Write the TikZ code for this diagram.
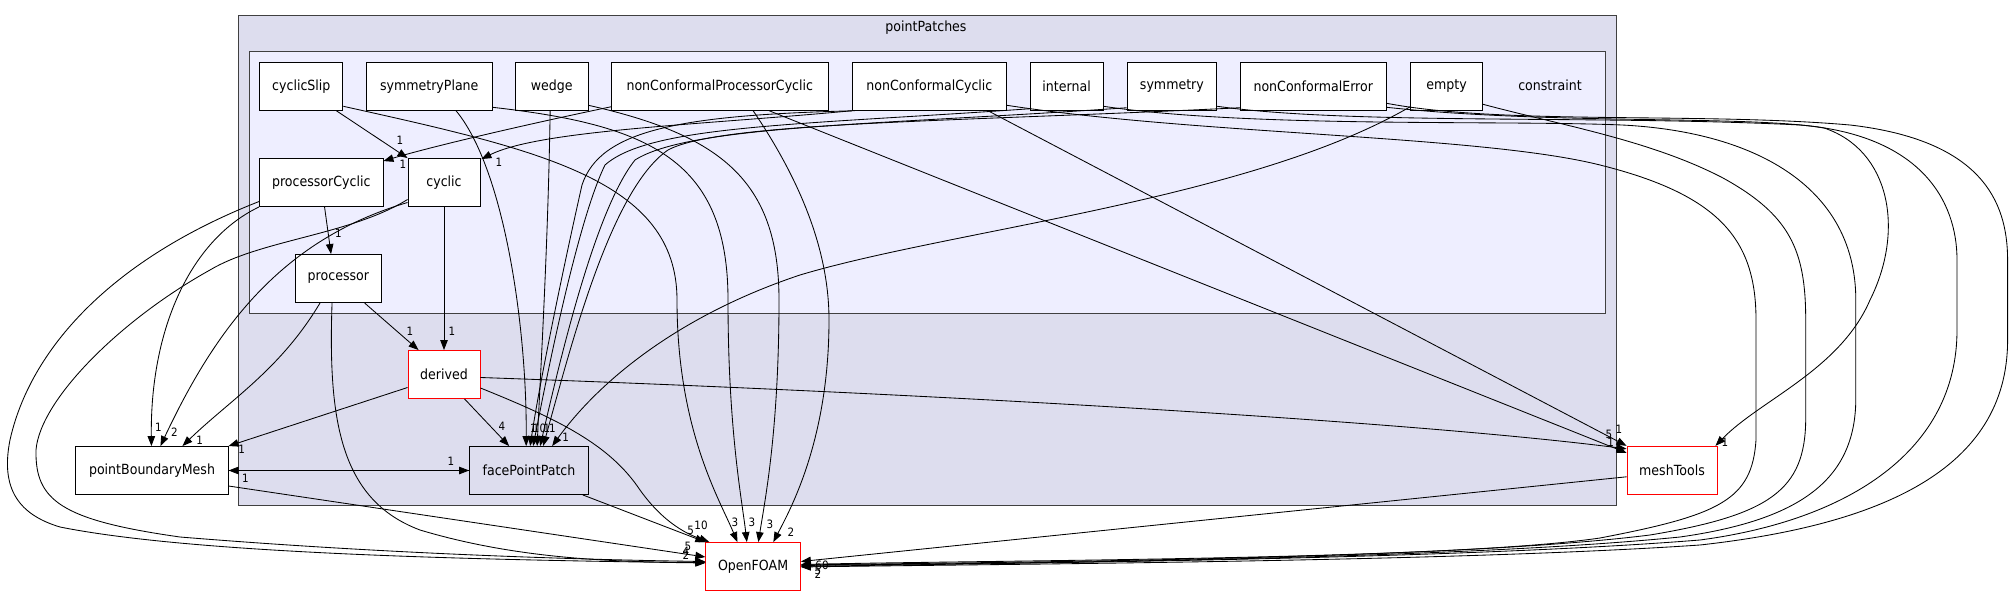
\documentclass[tikz,border=0pt]{standalone}
\usepackage{fontspec}
\setmainfont{DejaVu Sans}[FakeStretch=0.9]
\usetikzlibrary{arrows.meta,calc}
\definecolor{outerfill}{HTML}{DDDDEE}
\definecolor{innerfill}{HTML}{EEEEFF}
\definecolor{clline}{HTML}{404040}
\begin{document}
\begin{tikzpicture}[x=1pt,y=-1pt,
 box/.style={draw=black, fill=white, line width=0.9pt, inner sep=0pt, minimum height=48pt, font=\fontsize{14}{17}\selectfont},
 redbox/.style={box, draw=red},
 dep/.style={draw=black, line width=0.85pt, -{Triangle[length=10pt,width=7.5pt]}},
 lbl/.style={inner sep=0pt, font=\fontsize{11.5}{13}\selectfont},
 cluster/.style={draw=clline, line width=1pt, inner sep=0pt},
 cltext/.style={inner sep=0pt, font=\fontsize{14}{17}\selectfont}]
\useasboundingbox (0,0) rectangle (2013,596);
\fill[white] (0,0) rectangle (2013,596);
% clusters
\node[cluster, fill=outerfill, minimum width=1377.2pt, minimum height=489.3pt] (pp) at (927.4,260.35) {};
\node[cluster, fill=innerfill, minimum width=1356.7pt, minimum height=261.6pt] (cons) at (927.35,182.5) {};
\node[cltext] (ppl) at (926,27.7) {pointPatches};
\node[cltext] (consl) at (1550,85.7) {constraint};
% nodes
\node[box, minimum width=83.1pt] (cS) at (301.35,86.3) {cyclicSlip};
\node[box, minimum width=125.5pt] (sP) at (429.25,86.3) {symmetryPlane};
\node[box, minimum width=72.4pt] (wg) at (551.8,86.3) {wedge};
\node[box, minimum width=216.4pt] (ncpc) at (719.8,86.3) {nonConformalProcessorCyclic};
\node[box, minimum width=154pt] (ncc) at (929.4,86.3) {nonConformalCyclic};
\node[box, minimum width=72.7pt] (int) at (1066.65,86.3) {internal};
\node[box, minimum width=89.8pt] (sym) at (1171.9,86.3) {symmetry};
\node[box, minimum width=145.9pt] (nce) at (1313.25,86.3) {nonConformalError};
\node[box, minimum width=72pt] (emp) at (1446.6,86.3) {empty};
\node[box, minimum width=123.5pt] (pc) at (321.25,182.5) {processorCyclic};
\node[box, minimum width=72pt] (cyc) at (444,182.5) {cyclic};
\node[box, minimum width=85.7pt] (proc) at (338.35,278.5) {processor};
\node[redbox, minimum width=72pt] (der) at (444,374.5) {derived};
\node[box, minimum width=152.2pt] (pbm) at (152,470.5) {pointBoundaryMesh};
\node[box, fill=outerfill, minimum width=118.8pt] (fpp) at (529,470.5) {facePointPatch};
\node[redbox, minimum width=94.6pt] (of) at (753.1,566.5) {OpenFOAM};
\node[redbox, minimum width=90pt] (mt) at (1672,470.3) {meshTools};
% edges
\draw[dep] ($(cS.south west)+(77,0)$) -- (cyc.north west);
\draw[dep] ($(cS.east)+(0,20)$) .. controls (540,150) and (677,180) .. (677,300) .. controls (677,430) and (720,500) .. ($(of.north west)+(32,0)$);
\draw[dep] ($(sP.south west)+(90,0)$) .. controls (505,170) and (527,330) .. ($(fpp.north west)+(57,0)$);
\draw[dep] ($(sP.east)+(0,21)$) .. controls (650,125) and (728,160) .. (728,300) .. controls (728,430) and (742,500) .. ($(of.north west)+(41.5,0)$);
\draw[dep] ($(wg.south west)+(35,0)$) .. controls (548,250) and (540,380) .. ($(fpp.north west)+(68,0)$);
\draw[dep] ($(wg.east)+(0,19)$) .. controls (720,135) and (779,180) .. (779,300) .. controls (779,430) and (765,500) .. ($(of.north west)+(53,0)$);
\draw[dep] ($(ncpc.south west)+(142,0)$) .. controls (800,180) and (829,250) .. (829,320) .. controls (829,440) and (790,510) .. ($(of.north west)+(68,0)$);
\draw[dep] ($(ncpc.south west)+(0,-4)$) .. controls (500,130) and (420,150) .. ($(pc.north east)+(0,3)$);
\draw[dep] ($(ncpc.south west)+(158,0)$) -- ($(mt.north west)+(0,7)$);
\draw[dep] (ncc.south west) .. controls (700,125) and (540,130) .. ($(cyc.north east)+(1,1)$);
\draw[dep] ($(ncc.south west)+(3,0)$) .. controls (680,115) and (600,130) .. (582,185) .. controls (565,260) and (540,380) .. ($(fpp.north west)+(61,0)$);
\draw[dep] ($(ncc.south west)+(136,0)$) -- (mt.north west);
\draw[dep] ($(ncc.east)+(0,19)$) .. controls (1200,135) and (1480,135) .. (1600,165) .. controls (1720,195) and (1756,240) .. (1756,320) -- (1756,440) .. controls (1752,500) and (1720,515) .. (1600,538) .. controls (1450,560) and (1000,560) .. ($(of.east)+(0,-2)$);
\draw[dep] ($(int.south west)+(0,-2)$) .. controls (800,125) and (650,125) .. (605,165) .. controls (578,220) and (548,370) .. ($(fpp.north west)+(64,0)$);
\draw[dep] ($(int.east)+(0,20)$) .. controls (1250,128) and (1500,120) .. (1622,125) .. controls (1760,132) and (1855.8,190) .. (1855.8,300) -- (1855.8,400) .. controls (1855,480) and (1800,520) .. (1680,537) .. controls (1450,560) and (1000,563) .. ($(of.east)+(0,-1)$);
\draw[dep] ($(sym.south west)+(0,-3)$) .. controls (880,125) and (690,125) .. (635,160) .. controls (595,210) and (560,360) .. ($(fpp.north west)+(71,0)$);
\draw[dep] ($(sym.east)+(0,20)$) .. controls (1350,125) and (1600,115) .. (1800,125) .. controls (1920,135) and (1957,200) .. (1957,260) -- (1957,330) .. controls (1957,450) and (1850,520) .. (1700,540) .. controls (1450,560) and (1000,563) .. (of.east);
\draw[dep] ($(nce.south west)+(0,-3)$) .. controls (950,122) and (720,122) .. (668,150) .. controls (610,190) and (570,350) .. ($(fpp.north west)+(74,0)$);
\draw[dep] ($(nce.east)+(0,21)$) .. controls (1550,125) and (1750,115) .. (1824,128) .. controls (1890,150) and (1905,230) .. (1870,300) .. controls (1840,370) and (1760,400) .. ($(mt.north east)+(-2,0)$);
\draw[dep] ($(nce.east)+(0,17)$) .. controls (1500,125) and (1700,112) .. (1850,125) .. controls (1980,140) and (2007.6,200) .. (2007.6,260) -- (2007.6,340) .. controls (2007.6,470) and (1880,525) .. (1700,545) .. controls (1450,562) and (1000,564) .. ($(of.east)+(0,0.5)$);
\draw[dep] ($(emp.south west)+(0,-4)$) .. controls (1250,200) and (950,230) .. (800,275) .. controls (680,315) and (600,380) .. ($(fpp.north west)+(83,0)$);
\draw[dep] ($(emp.east)+(0,18)$) .. controls (1560,125) and (1650,140) .. (1723,178) .. controls (1790,215) and (1805.7,250) .. (1805.7,320) -- (1805.7,420) .. controls (1805,490) and (1770,515) .. (1650,535) .. controls (1450,560) and (1000,562) .. ($(of.east)+(0,-1.5)$);
\draw[dep] ($(pc.south west)+(65.5,0)$) -- ($(proc.north west)+(36,0)$);
\draw[dep] (pc.south west) .. controls (190,240) and (150,330) .. ($(pbm.north west)+(76,0)$);
\draw[dep] ($(pc.west)+(0,19)$) .. controls (110,260) and (30,350) .. (10,440) .. controls (0,490) and (20,515) .. (60,527) .. controls (200,555) and (500,560) .. ($(of.west)+(0,-3.5)$);
\draw[dep] (cyc.south) -- (der.north);
\draw[dep] ($(cyc.west)+(0,20)$) .. controls (280,240) and (215,330) .. ($(pbm.north west)+(85,0)$);
\draw[dep] ($(cyc.west)+(0,17)$) .. controls (350,235) and (260,240) .. (210,270) .. controls (120,320) and (40,400) .. (36,450) .. controls (35,500) and (60,520) .. (180,537) .. controls (400,555) and (600,560) .. ($(of.west)+(0,-5)$);
\draw[dep] ($(proc.south west)+(69.5,0)$) -- ($(der.north west)+(11,0)$);
\draw[dep] ($(proc.south west)+(25,0)$) .. controls (280,370) and (230,400) .. ($(pbm.north west)+(107,0)$);
\draw[dep] ($(proc.south west)+(37,0)$) .. controls (328,420) and (340,500) .. (420,530) .. controls (520,560) and (620,562) .. ($(of.west)+(0,-4)$);
\draw[dep] ($(der.west)+(0,13)$) -- (pbm.north east);
\draw[dep] ($(der.south west)+(57,0)$) -- ($(fpp.north west)+(40,0)$);
\draw[dep] ($(der.east)+(0,13.5)$) .. controls (560,420) and (610,445) .. (640,490) .. controls (665,525) and (690,535) .. ($(of.north west)+(4,0)$);
\draw[dep] ($(der.east)+(0,3)$) .. controls (900,392) and (1400,420) .. ($(mt.north west)+(0,3)$);
\draw[dep] (pbm.east) -- (fpp.west);
\draw[dep] (fpp.west) -- (pbm.east);
\draw[dep] ($(pbm.east)+(0,15.5)$) -- ($(of.west)+(0,-9.5)$);
\draw[dep] ($(fpp.south east)+(-6,0)$) -- (of.north west);
\draw[dep] ($(mt.west)+(0,6.5)$) -- ($(of.east)+(0,-5)$);
% labels
\node[lbl] (l1) at (400,140) {1};
\node[lbl] (l2) at (403,164.5) {1};
\node[lbl] (l3) at (499,162) {1};
\node[lbl] (l4) at (338.4,233) {1};
\node[lbl] (l5) at (452,331.7) {1};
\node[lbl] (l6) at (410,331.7) {1};
\node[lbl] (l7) at (158.5,427) {1};
\node[lbl] (l8) at (174.5,432.5) {2};
\node[lbl] (l9) at (199.6,440.7) {1};
\node[lbl] (l10) at (241.7,449) {1};
\node[lbl] (l11) at (502,426.7) {4};
\node[lbl] (l12) at (451,461.7) {1};
\node[lbl] (l13) at (245.5,478.3) {1};
\node[lbl] (l14) at (533.5,428) {1};
\node[lbl] (l15) at (539.5,428) {10};
\node[lbl] (l16) at (547,428) {1};
\node[lbl] (l17) at (552.5,428.5) {1};
\node[lbl] (l18) at (565.7,437.7) {1};
\node[lbl] (l19) at (690.6,530) {5};
\node[lbl] (l20) at (701,525) {10};
\node[lbl] (l21) at (735,522) {3};
\node[lbl] (l22) at (752,522) {3};
\node[lbl] (l23) at (770,524) {3};
\node[lbl] (l24) at (791,532) {2};
\node[lbl] (l25) at (688,546.7) {5};
\node[lbl] (l26) at (686,551.5) {4};
\node[lbl] (l27) at (686,555) {2};
\node[lbl] (l28) at (822,565.7) {60};
\node[lbl] (l29) at (818,570.5) {5};
\node[lbl] (l30) at (818,574.5) {2};
\node[lbl] (l31) at (1609,434) {5};
\node[lbl] (l32) at (1619,429.3) {1};
\node[lbl] (l33) at (1610.7,442.7) {1};
\node[lbl] (l34) at (1725,442) {1};
\end{tikzpicture}
\end{document}
